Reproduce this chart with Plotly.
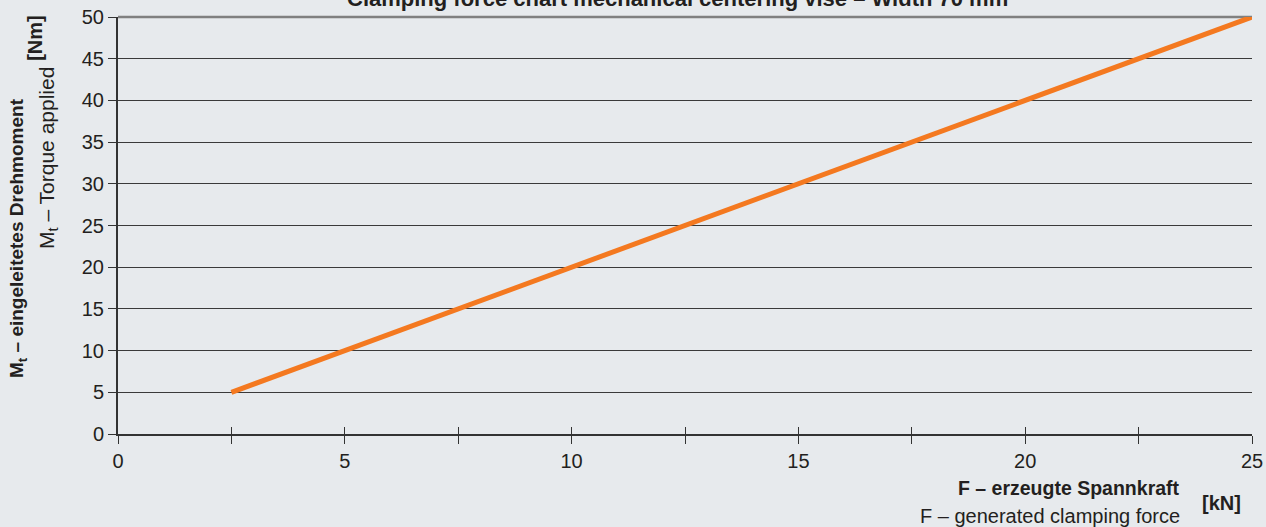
import plotly.graph_objects as go

# Data
force_kn = [2.5, 5, 7.5, 10, 12.5, 15, 17.5, 20, 22.5, 25]
torque_nm = [5, 10, 15, 20, 25, 30, 35, 40, 45, 50]
x_tickvals = [0, 2.5, 5, 7.5, 10, 12.5, 15, 17.5, 20, 22.5, 25]
x_ticktext = ["0", "", "5", "", "10", "", "15", "", "20", "", "25"]
y_tickvals = [0, 5, 10, 15, 20, 25, 30, 35, 40, 45, 50]

title_text = "Clamping force chart mechanical centering vise – Width 70 mm"
FONT = "Liberation Sans, Arial, sans-serif"
TXT = "#231f20"
BG = "#e7eaed"
ORANGE = "#f47920"

fig = go.Figure()
fig.add_trace(go.Scatter(x=force_kn, y=torque_nm, mode="lines",
                         line=dict(color=ORANGE, width=5), hoverinfo="skip",
                         showlegend=False))
# invisible trace on the overlay axis (inside ticks)
fig.add_trace(go.Scatter(x=force_kn, y=torque_nm, mode="lines", xaxis="x2",
                         line=dict(color="rgba(0,0,0,0)", width=0),
                         hoverinfo="skip", showlegend=False))

fig.update_layout(
    template="none",
    width=1266, height=527,
    paper_bgcolor=BG, plot_bgcolor=BG,
    margin=dict(l=118, r=14, t=17, b=93, autoexpand=False),
    font=dict(family=FONT, color=TXT, size=20),
    xaxis=dict(range=[0, 25], tickvals=x_tickvals, ticktext=x_ticktext,
               ticks="outside", ticklen=8, tickcolor="#333", tickwidth=1,
               showline=True, linecolor="#333", linewidth=2,
               showgrid=False, zeroline=False, automargin=False,
               tickfont=dict(size=20, family=FONT, color=TXT)),
    xaxis2=dict(range=[0, 25], overlaying="x", anchor="y", side="bottom",
                tickvals=x_tickvals, ticks="inside", ticklen=7,
                tickcolor="#333", tickwidth=1, showticklabels=False,
                showgrid=False, zeroline=False, showline=False,
                automargin=False),
    yaxis=dict(range=[0, 50], tickvals=y_tickvals, ticks="outside",
               ticklen=8, tickcolor="#333", tickwidth=1,
               showline=True, linecolor="#333", linewidth=2,
               showgrid=True, gridcolor="#3a3a3a", gridwidth=1,
               zeroline=False, automargin=False,
               tickfont=dict(size=20, family=FONT, color=TXT)),
    shapes=[dict(type="line", xref="paper", yref="paper", x0=0, x1=1,
                 y0=1, y1=1, line=dict(color="#808080", width=2.5),
                 layer="below")],
)

ann = [
    dict(text="<b>" + title_text + "</b>", xref="paper", yref="paper",
         x=0.493, y=1, yanchor="bottom", xanchor="center", yshift=4,
         font=dict(size=22)),
    dict(text="<b>M<sub>t</sub> – eingeleitetes Drehmoment</b>", xref="paper",
         yref="paper", x=-0.0882, y=0.47, textangle=-90,
         xanchor="center", yanchor="middle", font=dict(size=19)),
    dict(text="M<sub>t</sub> – Torque applied", xref="paper", yref="paper",
         x=-0.0617, y=0.662, textangle=-90, xanchor="center",
         yanchor="middle", font=dict(size=21)),
    dict(text="<b>[Nm]</b>", xref="paper", yref="paper", x=-0.0732, y=0.95,
         textangle=-90, xanchor="center", yanchor="middle",
         font=dict(size=20)),
    dict(text="<b>F – erzeugte Spannkraft</b>", xref="paper", yref="paper",
         x=0.938, y=-0.1295, xanchor="right", yanchor="middle",
         font=dict(size=19.5)),
    dict(text="F – generated clamping force", xref="paper", yref="paper",
         x=0.938, y=-0.197, xanchor="right", yanchor="middle",
         font=dict(size=20)),
    dict(text="<b>[kN]</b>", xref="paper", yref="paper", x=0.9735,
         y=-0.165, xanchor="center", yanchor="middle", font=dict(size=20)),
]
for a in ann:
    a["showarrow"] = False
    fig.add_annotation(**a)

fig.write_html(
    "out.html",
    config={"displayModeBar": False},
    post_script="document.body.style.margin='0';"
                "document.body.style.overflow='hidden';"
                "document.body.style.background='" + BG + "';",
)
